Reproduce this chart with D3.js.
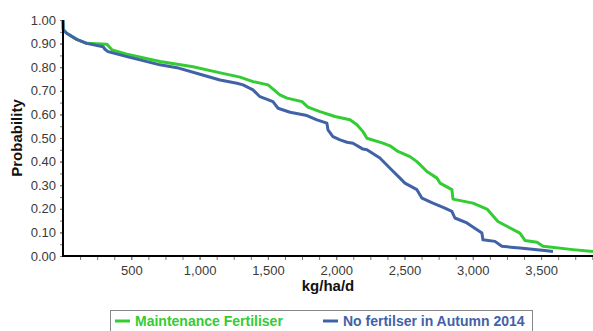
<!DOCTYPE html>
<html>
<head>
<meta charset="utf-8">
<script src="https://cdn.jsdelivr.net/npm/d3@7"></script>
<style>
  body { margin: 0; background: #fff; }
  text { font-family: Arial, "Liberation Sans", sans-serif; }
</style>
</head>
<body>
<div id="chart"></div>
<script>
// exceedance curves: [kg/ha/d, probability]
var maintenance = [
  [0, 1.00], [2, 0.96], [27, 0.944], [100, 0.918], [173, 0.901], [322, 0.897],
  [359, 0.873], [468, 0.855], [710, 0.824], [952, 0.802], [1127, 0.779],
  [1296, 0.758], [1391, 0.739], [1501, 0.725], [1588, 0.683], [1640, 0.669],
  [1750, 0.654], [1793, 0.631], [1881, 0.612], [1991, 0.591], [2101, 0.577],
  [2152, 0.556], [2196, 0.527], [2225, 0.499], [2342, 0.478], [2394, 0.467],
  [2452, 0.443], [2540, 0.421], [2591, 0.400], [2664, 0.358], [2738, 0.330],
  [2760, 0.309], [2847, 0.281], [2855, 0.241], [3001, 0.224], [3104, 0.199],
  [3184, 0.146], [3345, 0.097], [3382, 0.066], [3470, 0.058], [3514, 0.041],
  [3733, 0.027], [3880, 0.019]
];

var noFertiliser = [
  [0, 1.00], [2, 0.958], [27, 0.944], [100, 0.918], [173, 0.901], [293, 0.887],
  [307, 0.876], [329, 0.866], [468, 0.845], [710, 0.810], [834, 0.798],
  [1003, 0.770], [1149, 0.746], [1274, 0.732], [1318, 0.725], [1391, 0.704],
  [1442, 0.675], [1537, 0.654], [1574, 0.626], [1662, 0.609], [1786, 0.595],
  [1859, 0.577], [1932, 0.563], [1940, 0.534], [1976, 0.506], [2028, 0.492],
  [2079, 0.482], [2123, 0.478], [2196, 0.453], [2225, 0.450], [2320, 0.415],
  [2394, 0.372], [2467, 0.330], [2503, 0.309], [2591, 0.281], [2628, 0.245],
  [2708, 0.224], [2796, 0.203], [2847, 0.189], [2869, 0.161], [2957, 0.140],
  [3067, 0.097], [3074, 0.069], [3162, 0.062], [3213, 0.041], [3345, 0.034],
  [3543, 0.022], [3587, 0.019]
];

var seriesNames = ["Maintenance Fertiliser", "No fertilser in Autumn 2014"];
var seriesColors = ["#33cc33", "#4262a8"];
var xTickLabels = [500, 1000, 1500, 2000, 2500, 3000, 3500];
var yTickLabels = [0, 0.1, 0.2, 0.3, 0.4, 0.5, 0.6, 0.7, 0.8, 0.9, 1.0];

var W = 593, H = 331;
var margin = {top: 20, right: 0, bottom: 75, left: 63},
    width = W - margin.left - margin.right,
    height = H - margin.top - margin.bottom;

var svg = d3.select("#chart")
  .append("svg")
    .attr("width", W)
    .attr("height", H);

var g = svg.append("g")
    .attr("transform", "translate(" + margin.left + "," + margin.top + ")");

var x = d3.scaleLinear().domain([0, 3880]).range([0, width]);
var y = d3.scaleLinear().domain([0, 1]).range([height, 0]);

// minor ticks
g.append("g")
    .attr("transform", "translate(0," + height + ")")
    .call(d3.axisBottom(x).tickValues(d3.range(125, 3880, 125)).tickSize(4).tickFormat(""))
    .call(function(s) { s.select(".domain").remove(); s.selectAll("line").attr("stroke", "#777"); });
g.append("g")
    .call(d3.axisLeft(y).tickValues(d3.range(0, 1.001, 0.05)).tickSize(3).tickFormat(""))
    .call(function(s) { s.select(".domain").remove(); s.selectAll("line").attr("stroke", "#777"); });

// labelled axes
var xAxis = g.append("g")
    .attr("transform", "translate(0," + height + ")")
    .call(d3.axisBottom(x).tickValues(xTickLabels).tickSize(4).tickPadding(6).tickFormat(d3.format(",")));
var yAxis = g.append("g")
    .call(d3.axisLeft(y).tickValues(yTickLabels).tickSize(3).tickPadding(4).tickFormat(d3.format(".2f")));

[xAxis, yAxis].forEach(function(a) {
  a.select(".domain").remove();
  a.selectAll("line").attr("stroke", "#777");
  a.selectAll("text")
    .attr("fill", "#3a3a3a")
    .style("font-size", "13px")
    .style("font-family", "Arial, 'Liberation Sans', sans-serif");
});

var line = d3.line()
    .x(function(d) { return x(d[0]); })
    .y(function(d) { return y(d[1]); });

[maintenance, noFertiliser].forEach(function(data, i) {
  g.append("path")
    .datum(data)
    .attr("fill", "none")
    .attr("stroke", seriesColors[i])
    .attr("stroke-width", 3)
    .attr("stroke-linejoin", "round")
    .attr("d", line);
});

// axis lines
g.append("line").attr("x1", 0).attr("x2", width).attr("y1", height).attr("y2", height)
    .attr("stroke", "#000").attr("stroke-width", 2);
g.append("line").attr("x1", 0).attr("x2", 0).attr("y1", 0).attr("y2", height + 1)
    .attr("stroke", "#000").attr("stroke-width", 2);

// titles
svg.append("text")
    .attr("x", margin.left + width / 2)
    .attr("y", 291)
    .attr("text-anchor", "middle")
    .style("font-size", "15px")
    .style("font-weight", "bold")
    .attr("fill", "#111")
    .text("kg/ha/d");

svg.append("text")
    .attr("transform", "translate(22," + (margin.top + height / 2) + ") rotate(-90)")
    .attr("text-anchor", "middle")
    .style("font-size", "15px")
    .style("font-weight", "bold")
    .attr("fill", "#111")
    .text("Probability");

// legend
var legend = svg.append("g");
legend.append("rect")
    .attr("x", 110.5).attr("y", 310.5)
    .attr("width", 422).attr("height", 30)
    .attr("fill", "none")
    .attr("stroke", "#888");

var legendX = [115, 323];
seriesNames.forEach(function(name, i) {
  legend.append("line")
    .attr("x1", legendX[i]).attr("x2", legendX[i] + 15)
    .attr("y1", 321).attr("y2", 321)
    .attr("stroke", seriesColors[i])
    .attr("stroke-width", 3);
  legend.append("text")
    .attr("x", legendX[i] + 20)
    .attr("y", 325.5)
    .style("font-size", "14px")
    .style("font-weight", "bold")
    .attr("fill", seriesColors[i])
    .text(name);
});
</script>
</body>
</html>
